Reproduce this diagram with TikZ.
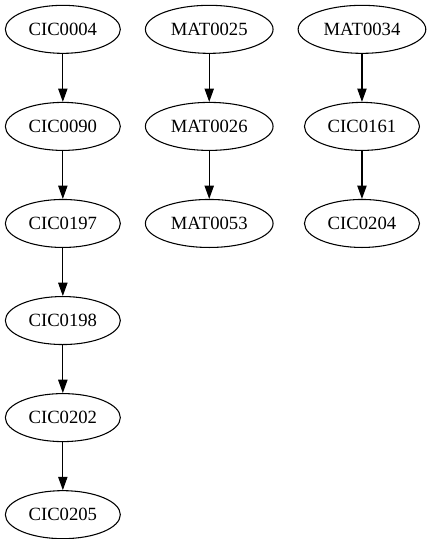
\documentclass[tikz,border=0pt]{standalone}
\usepackage{fontspec}
\setmainfont{Liberation Serif}
\usetikzlibrary{positioning, arrows.meta, shapes.geometric}

\begin{document}
\begin{tikzpicture}[
  node distance=36pt and 18pt,
  course/.style={
    ellipse, draw=black, line width=0.8pt, inner sep=0pt,
    minimum width=86.25pt, minimum height=36pt,
    font=\fontsize{14}{16}\selectfont
  },
  widecourse/.style={course, minimum width=95.75pt},
  arrow/.style={-{Triangle[length=10pt,width=7pt]}, line width=0.8pt, color=black}
]
  \useasboundingbox (0,0) rectangle (321.75pt,-404.25pt);

  \node[course] (c0004) at (47.125pt,-22pt) {CIC0004};
  \node[course, below=of c0004] (c0090) {CIC0090};
  \node[course, below=of c0090] (c0197) {CIC0197};
  \node[course, below=of c0197] (c0198) {CIC0198};
  \node[course, below=of c0198] (c0202) {CIC0202};
  \node[course, below=of c0202] (c0205) {CIC0205};

  \node[widecourse, right=of c0004] (m0025) {MAT0025};
  \node[widecourse, below=of m0025] (m0026) {MAT0026};
  \node[widecourse, below=of m0026] (m0053) {MAT0053};

  \node[widecourse, right=of m0025] (m0034) {MAT0034};
  \node[course, below=of m0034]     (c0161) {CIC0161};
  \node[course, below=of c0161]     (c0204) {CIC0204};

  \draw[arrow] (c0004) -- (c0090);
  \draw[arrow] (c0090) -- (c0197);
  \draw[arrow] (c0197) -- (c0198);
  \draw[arrow] (c0198) -- (c0202);
  \draw[arrow] (c0202) -- (c0205);
  \draw[arrow] (m0025) -- (m0026);
  \draw[arrow] (m0026) -- (m0053);
  \draw[arrow] (m0034) -- (c0161);
  \draw[arrow] (c0161) -- (c0204);
\end{tikzpicture}
\end{document}
